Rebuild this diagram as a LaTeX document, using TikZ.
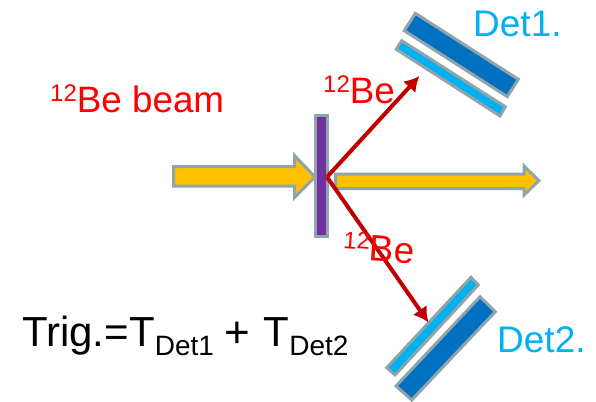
\documentclass[tikz,border=0pt]{standalone}
\usepackage{fontspec}
\setmainfont{Liberation Sans}
\definecolor{edgegray}{HTML}{8FA5AB}
\definecolor{beamyellow}{HTML}{FFC000}
\definecolor{darkblue}{HTML}{0070C0}
\definecolor{lightblue}{HTML}{00B0F0}
\definecolor{targetpurple}{HTML}{7030A0}
\definecolor{trackred}{HTML}{C00000}
\usetikzlibrary{arrows.meta}
\tikzset{
  x=1pt,y=-1pt,
  plate/.style={draw=edgegray,line width=3pt,line join=miter},
  beamarrow/.style={plate,fill=beamyellow},
  track/.style={draw=trackred,line width=4pt,-{Latex[length=15pt,width=17pt]}},
  redtext/.style={text=red,font=\fontsize{36.8}{36.8}\selectfont,inner sep=0pt,anchor=base west},
  bluetext/.style={text=lightblue,font=\fontsize{37}{37}\selectfont,inner sep=0pt,anchor=base west},
  blacktext/.style={text=black,font=\fontsize{42}{42}\selectfont,inner sep=0pt,anchor=base west},
}
\newcommand{\supnum}[1]{\raisebox{11pt}{\fontsize{24}{24}\selectfont #1}}
\newcommand{\subtxt}[1]{\raisebox{-8.3pt}{\fontsize{28}{28}\selectfont #1}}
\newcommand{\bigplus}{\raisebox{-1pt}{\fontsize{44}{44}\selectfont +}}
\begin{document}
\begin{tikzpicture}
\useasboundingbox (0,0) rectangle (596,401);
% beam arrows
\draw[beamarrow] (173.5,166.5) -- (294.5,166.5) -- (294.5,155.5) -- (315,177) -- (294.5,197.5) -- (294.5,186.2) -- (173.5,186.2) -- cycle;
\draw[beamarrow] (335.5,174.2) -- (524,174.2) -- (524,166) -- (539,180.7) -- (524,195) -- (524,188.5) -- (335.5,188.5) -- cycle;
% target
\node[plate,fill=targetpurple,minimum width=12.3pt,minimum height=121.3pt,inner sep=0pt,outer sep=0pt] (target) at (321.7,176.2) {};
% detectors
\draw[plate,fill=darkblue] (415.3,13.3) -- (518.3,79.3) -- (507.3,96.7) -- (404.3,30.7) -- cycle;
\draw[plate,fill=lightblue] (401.7,40.7) -- (505.3,106.7) -- (500,116) -- (396.3,49.3) -- cycle;
\draw[plate,fill=lightblue] (471,277.3) -- (478.3,285) -- (395,375) -- (386.7,367.7) -- cycle;
\draw[plate,fill=darkblue] (480,296.7) -- (495.3,311.7) -- (411.7,400) -- (396,386) -- cycle;
% tracks
\coordinate (hit) at (327,177);
\coordinate (det1hit) at (419.5,76);
\coordinate (det2hit) at (428.5,322.5);
\draw[track] (hit) -- (det1hit);
\draw[track] (hit) -- (det2hit);
% labels
\node[redtext] (beamlabel) at (50,112.5) {\supnum{12}Be beam};
\node[redtext] (be1) at (323,103.5) {\supnum{12}Be};
\node[redtext,rotate=-4] (be2) at (342,259) {\supnum{12}Be};
\node[bluetext] (det1) at (473,36.7) {Det1.};
\node[bluetext] (det2) at (497,352.7) {Det2.};
\node[blacktext] (trig) at (22,346.7) {Trig.=T\subtxt{Det1}\hspace{11pt}\bigplus\hspace{13pt}T\subtxt{Det2}};
\end{tikzpicture}
\end{document}
